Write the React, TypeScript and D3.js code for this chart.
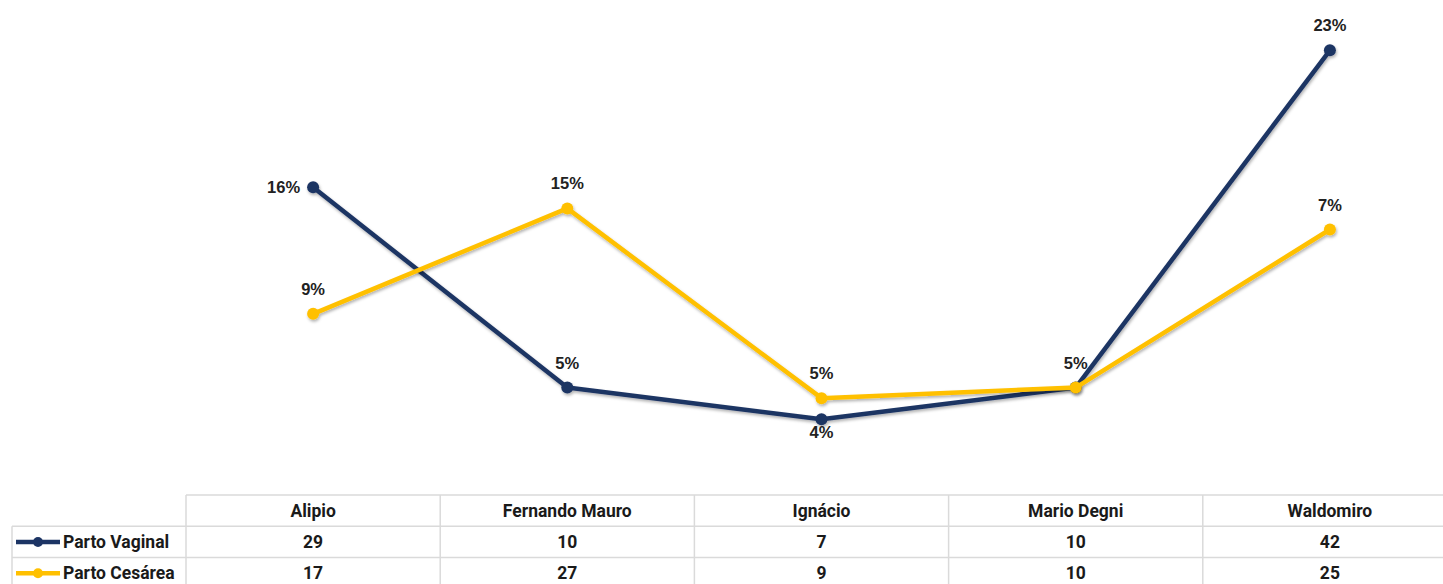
import React from "react";
import * as d3 from "d3";

const categories = ["Alipio", "Fernando Mauro", "Ignácio", "Mario Degni", "Waldomiro"];
const vaginalValues = [29, 10, 7, 10, 42];
const cesareaValues = [17, 27, 9, 10, 25];
const vaginalLabels = ["16%", "5%", "4%", "5%", "23%"];
const cesareaLabels = ["9%", "15%", "5%", "", "7%"];
const vaginalLabelPos = ["left", "above", "below", "above", "above"];
const cesareaLabelPos = ["above", "above", "above", "above", "above"];

const W = 1443;
const H = 584;
const NAVY = "#1C3464";
const GOLD = "#FFC000";

export default function App() {
  const tableLeft = 186;
  const colW = 254.2;
  const x = d3
    .scaleBand<string>()
    .domain(categories)
    .range([tableLeft, tableLeft + colW * categories.length])
    .padding(0);
  const cx = (c: string) => (x(c) as number) + x.bandwidth() / 2;
  const y = d3.scaleLinear().domain([0, 45]).range([493, 18.7]);

  const line = d3
    .line<number>()
    .x((_, i) => cx(categories[i]))
    .y((d) => y(d));

  const series = [
    { name: "Parto Vaginal", values: vaginalValues, labels: vaginalLabels, pos: vaginalLabelPos, color: NAVY },
    { name: "Parto Cesárea", values: cesareaValues, labels: cesareaLabels, pos: cesareaLabelPos, color: GOLD },
  ];

  const labelFont = "'Liberation Sans', Arial, sans-serif";
  const tableFont = "'Roboto', 'Liberation Sans', sans-serif";

  const rowTop = 495;
  const rowH = 31.3;
  const rightEdge = tableLeft + colW * categories.length;
  const gridColor = "#DADADA";

  return (
    <svg width={W} height={H} style={{ position: "absolute", left: 0, top: 0, background: "#fff" }}>
      <defs>
        <filter id="shadow" x="-10%" y="-10%" width="120%" height="130%">
          <feDropShadow dx="1" dy="2" stdDeviation="1.5" floodColor="#000" floodOpacity="0.3" />
        </filter>
      </defs>
      <rect x={0} y={0} width={W} height={H} fill="#fff" />
      {series.map((s) => (
        <g key={s.name} filter="url(#shadow)">
          <path d={line(s.values) || ""} fill="none" stroke={s.color} strokeWidth={4.5} strokeLinejoin="round" />
          {s.values.map((v, i) => (
            <circle key={i} cx={cx(categories[i])} cy={y(v)} r={6} fill={s.color} />
          ))}
        </g>
      ))}
      {series.map((s) =>
        s.values.map((v, i) => {
          const lbl = s.labels[i];
          if (!lbl) return null;
          const px = cx(categories[i]);
          const py = y(v);
          let tx = px, ty = py - 19, anchor: "middle" | "end" = "middle";
          if (s.pos[i] === "left") {
            tx = px - 13;
            ty = py + 6;
            anchor = "end";
          } else if (s.pos[i] === "below") {
            ty = py + 19;
          }
          return (
            <text
              key={s.name + i}
              x={tx}
              y={ty}
              textAnchor={anchor}
              fontFamily={labelFont}
              fontWeight="bold"
              fontSize={16.5}
              fill="#222"
            >
              {lbl}
            </text>
          );
        })
      )}
      {/* data table */}
      <g fontFamily={tableFont} fontWeight="bold" fontSize={17.5} fill="#1a1a1a">
        <line x1={tableLeft} x2={rightEdge} y1={rowTop} y2={rowTop} stroke={gridColor} strokeWidth={1.5} />
        {[1, 2, 3].map((r) => (
          <line key={r} x1={12} x2={rightEdge} y1={rowTop + r * rowH} y2={rowTop + r * rowH} stroke={gridColor} strokeWidth={1.5} />
        ))}
        <line x1={12} x2={12} y1={rowTop + rowH} y2={H} stroke={gridColor} strokeWidth={1.5} />
        {categories.map((c) => (
          <line key={c} x1={x(c) as number} x2={x(c) as number} y1={rowTop} y2={H} stroke={gridColor} strokeWidth={1.5} />
        ))}
        {categories.map((c) => (
          <text key={c} x={cx(c)} y={rowTop + rowH / 2 + 6} textAnchor="middle">
            {c}
          </text>
        ))}
        {series.map((s, r) => {
          const ry = rowTop + (r + 1) * rowH + rowH / 2;
          return (
            <g key={s.name}>
              <line x1={16} x2={60} y1={ry} y2={ry} stroke={s.color} strokeWidth={4.5} />
              <circle cx={38} cy={ry} r={5} fill={s.color} />
              <text x={63} y={ry + 6}>{s.name}</text>
              {s.values.map((v, i) => (
                <text key={i} x={cx(categories[i])} y={ry + 6} textAnchor="middle">
                  {v}
                </text>
              ))}
            </g>
          );
        })}
      </g>
    </svg>
  );
}
